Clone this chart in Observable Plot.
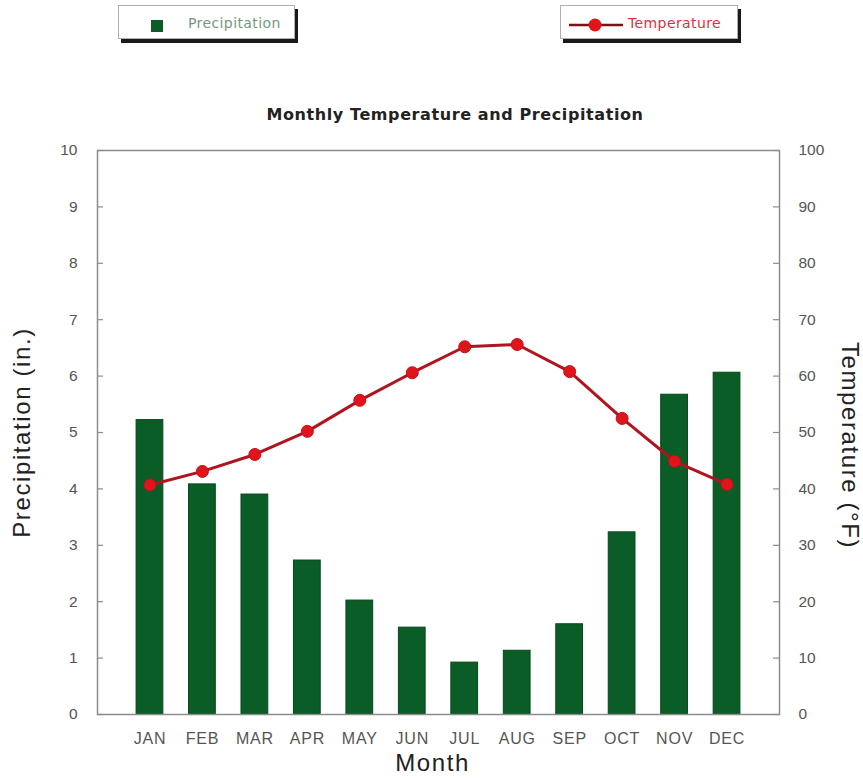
<!DOCTYPE html>
<html>
<head>
<meta charset="utf-8">
<script src="https://cdn.jsdelivr.net/npm/d3@7"></script>
<script src="https://cdn.jsdelivr.net/npm/@observablehq/plot@0.6"></script>
<style>
  html, body { margin: 0; padding: 0; background: #fff; }
  #page { position: relative; width: 863px; height: 780px; font-family: "Liberation Sans", Arial, sans-serif; }
  #header { position: relative; width: 863px; height: 130px; }
  .legend { position: absolute; top: 5px; height: 34px; background: #fff; border: 1px solid #b0b0b0; box-shadow: 3px 4px 0 #1a1a1a; box-sizing: border-box; }
  .legend span.lbl { position: absolute; top: 9px; font-family: "DejaVu Sans", sans-serif; font-size: 14px; letter-spacing: 0.4px; }
  #title { position: absolute; top: 105px; left: 0; width: 910px; text-align: center; font-family: "DejaVu Sans", sans-serif; font-weight: bold; font-size: 16px; letter-spacing: 0.6px; color: #222; }
  #chart svg { display: block; }
  #chart g[aria-label="text"] text { letter-spacing: 1.6px; }
  #chart g[aria-label="x-axis tick label"] text { letter-spacing: 0.8px; }
</style>
</head>
<body>
<div id="page">
  <div id="header">
    <div class="legend" style="left:118px; width:177px;">
      <span style="position:absolute; left:32px; top:14px; width:12px; height:12px; background:#0b5d27;"></span>
      <span class="lbl" style="left:69px; color:#6f9a80;">Precipitation</span>
    </div>
    <div class="legend" style="left:560px; width:178px;">
      <svg width="60" height="33" style="position:absolute; left:6px; top:0;">
        <line x1="2" y1="19" x2="56" y2="19" stroke="#7a1414" stroke-width="2.5"></line>
        <circle cx="28" cy="19" r="6.5" fill="#e0141a"></circle>
      </svg>
      <span class="lbl" style="left:67px; color:#d8323f;">Temperature</span>
    </div>
    <div id="title">Monthly Temperature and Precipitation</div>
  </div>
  <div id="chart"></div>
</div>
<script>
// ---- data ----
const months = ["JAN","FEB","MAR","APR","MAY","JUN","JUL","AUG","SEP","OCT","NOV","DEC"];
const precipitation = [5.22, 4.08, 3.9, 2.73, 2.02, 1.54, 0.92, 1.13, 1.6, 3.23, 5.67, 6.06];
const temperature = [40.7, 43.1, 46.1, 50.2, 55.7, 60.6, 65.2, 65.6, 60.8, 52.5, 44.9, 40.8];
const precipTicks = [0,1,2,3,4,5,6,7,8,9,10];
const tempTicks = [0,10,20,30,40,50,60,70,80,90,100];

const rows = months.map((m, i) => ({month: m, precip: precipitation[i], temp: temperature[i]}));

const W = 863, H = 650;
const mL = 97, mR = 84, mT = 20, mB = 66;
const plotW = W - mL - mR;

const chart = Plot.plot({
  width: W,
  height: H,
  marginLeft: mL,
  marginRight: mR,
  marginTop: mT,
  marginBottom: mB,
  style: {fontFamily: "Liberation Sans, Arial, sans-serif", background: "#fff"},
  x: {domain: months, paddingInner: 0.49, paddingOuter: 0.745, round: false, label: null},
  y: {domain: [0, 10], label: null},
  marks: [
    Plot.barY(rows, {x: "month", y: "precip", fill: "#0b5d27", stroke: "#07471c", strokeWidth: 1}),
    Plot.frame({stroke: "#8c8c8c", strokeWidth: 1.5}),
    Plot.tickY(precipTicks, {y: d => d, stroke: "#8c8c8c", strokeWidth: 1.2, insetRight: plotW - 6}),
    Plot.tickY(tempTicks, {y: d => d / 10, stroke: "#8c8c8c", strokeWidth: 1.2, insetLeft: plotW - 6}),
    Plot.axisY({anchor: "left", ticks: precipTicks, tickSize: 0, tickPadding: 20, fontSize: 15.5, color: "#555", label: null}),
    Plot.axisY({anchor: "right", ticks: precipTicks, tickSize: 0, tickPadding: 19, fontSize: 15.5, color: "#555", label: null,
      tickFormat: (d, i) => String(tempTicks[i])}),
    Plot.axisX({anchor: "bottom", tickSize: 0, tickPadding: 18, fontSize: 16, color: "#555", label: null}),
    Plot.line(rows, {x: "month", y: d => d.temp / 10, stroke: "#b0141e", strokeWidth: 3}),
    Plot.dot(rows, {x: "month", y: d => d.temp / 10, r: 6, fill: "#e0141a", stroke: "#c0101a", strokeWidth: 1}),
    Plot.text(["Precipitation (in.)"], {frameAnchor: "left", textAnchor: "middle", dx: -75, rotate: -90, fontSize: 24, fill: "#222"}),
    Plot.text(["Temperature (°F)"], {frameAnchor: "right", textAnchor: "middle", dx: 70, dy: 13, rotate: 90, fontSize: 24, fill: "#222"}),
    Plot.text(["Month"], {frameAnchor: "bottom", dy: 56, dx: -6, fontSize: 24, fill: "#222"})
  ]
});
document.getElementById("chart").appendChild(chart);
</script>
</body>
</html>
